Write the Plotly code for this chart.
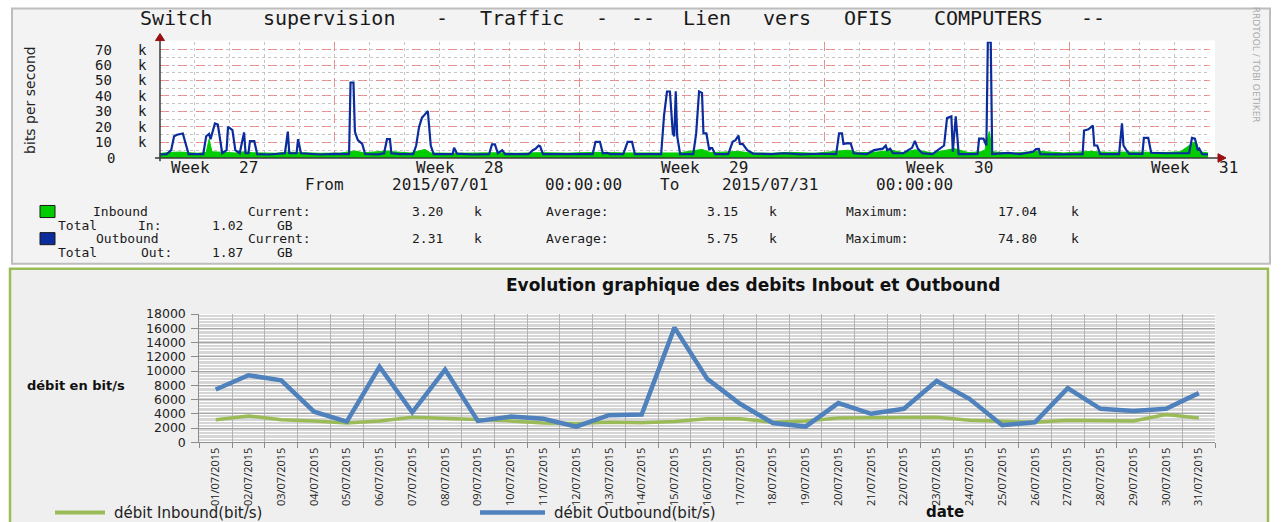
import re
import pandas as pd
import plotly.graph_objects as go

W, H = 1284, 522

# ---------------- Top chart (RRDtool) data: hours since 2015/07/01 00:00, kbit/s ----------------
out_hours = [0, 5, 8, 10, 12, 16, 18, 20, 30, 32, 34, 35, 38, 40, 43, 46, 47, 50, 52, 55, 58, 59, 61, 62, 65, 67,
             75, 86, 88, 89, 94, 95, 97, 110, 120, 130, 131, 133, 134, 136, 139, 141, 150, 154, 156, 158, 159, 165,
             174, 176, 178, 180, 181, 184, 186, 188, 195, 201, 202, 204, 215, 226, 228, 230, 232, 235, 237, 245,
             253, 256, 258, 260, 261, 263, 280, 297, 299, 302, 304, 307, 309, 318, 321, 324, 326, 335, 344, 346,
             348, 350, 352, 353, 354, 355, 357, 366, 368, 370, 372, 373, 375, 377, 378, 379, 381, 390, 393, 395,
             397, 398, 400, 403, 407, 420, 428, 440, 452, 464, 466, 468, 469, 472, 474, 476, 485, 490, 496, 498,
             499, 501, 503, 510, 516, 518, 520, 523, 530, 538, 540, 543, 544, 546, 548, 555, 561, 562, 565, 567,
             568, 570, 571, 582, 590, 599, 601, 603, 604, 615, 633, 634, 637, 640, 641, 643, 645, 652, 658, 660,
             661, 663, 665, 674, 675, 678, 680, 690, 706, 708, 710, 712, 713, 715, 719]
out_kbps = [2.3, 2.5, 5.0, 14.0, 15.0, 15.8, 9.0, 2.4, 2.4, 14.0, 15.5, 12.0, 22.3, 21.5, 3.0, 5.0, 20.0, 18.0, 5.0,
            3.0, 16.5, 3.0, 3.0, 10.8, 10.8, 2.4,
            2.2, 3.0, 17.0, 3.0, 3.0, 12.1, 3.0, 2.2, 2.6, 2.4, 48.7, 48.7, 16.9, 11.5, 9.0, 2.5, 2.3, 3.0, 12.1,
            12.1, 3.0, 2.4,
            2.5, 8.0, 20.0, 26.0, 27.0, 30.3, 8.0, 2.4, 2.5, 2.5, 6.5, 2.8, 2.2, 2.4, 8.7, 8.7, 3.0, 5.0, 2.4, 2.2,
            2.4, 5.0, 6.0, 8.0, 7.5, 2.4, 2.3, 2.4, 10.4, 10.4, 3.0, 3.3, 2.4, 2.4, 10.4, 10.4, 2.4, 2.3, 2.4, 27.7,
            42.9, 42.9, 15.8, 14.0, 43.0, 14.0, 2.4, 2.4, 15.8, 42.9, 42.0, 15.8, 15.8, 5.0, 6.4, 6.4, 2.4, 2.4,
            10.4, 11.5,
            14.5, 9.0, 8.9, 5.0, 2.8, 2.4, 3.0, 2.3, 2.7, 2.4, 15.8, 15.8, 9.0, 9.5, 9.3, 3.0, 2.4, 5.0, 6.0, 8.0,
            5.0, 6.0, 3.0, 3.0, 6.5, 11.0, 6.0, 3.0, 2.4, 8.0, 25.7, 26.8, 4.0, 26.8, 2.4, 2.4, 2.6, 12.5, 12.5, 8.0,
            74.8, 74.8, 2.5, 3.3, 2.4, 4.0, 5.7, 5.8, 2.4, 2.3, 2.4, 17.7, 18.5, 20.9, 8.0, 8.0, 2.4, 2.4, 2.5, 22.3,
            8.0, 5.0, 2.6, 2.6, 13.0, 13.0, 3.3, 3.0, 3.0, 13.0, 12.5, 5.0, 6.0, 2.4, 2.3]

in_hours = [0, 6, 14, 20, 26, 32, 34, 36, 44, 52, 58, 64, 80, 88, 96, 110, 124, 134, 140, 156, 160, 166, 172, 182,
            186, 200, 212, 230, 245, 260, 280, 300, 320, 340, 356, 372, 378, 397, 405, 420, 432, 450, 466, 472,
            480, 492, 502, 510, 518, 530, 545, 555, 563, 566, 569, 571, 585, 602, 620, 638, 650, 665, 690, 700,
            709, 711, 713, 719]
in_kbps = [2.8, 3.5, 3.8, 3.2, 3.0, 3.5, 12.0, 4.0, 3.5, 3.2, 4.0, 3.3, 3.0, 3.8, 3.4, 3.0, 3.1, 4.5, 3.3, 4.5,
           4.0, 3.8, 3.2, 5.5, 3.2, 3.0, 3.2, 3.3, 3.0, 3.4, 3.1, 3.6, 3.2, 3.3, 3.2, 5.5, 3.4, 4.2, 3.2, 3.0,
           3.6, 3.0, 4.5, 5.0, 3.3, 3.8, 5.0, 3.4, 5.2, 3.2, 6.0, 3.4, 4.0, 5.0, 17.04, 4.0, 3.0, 4.3, 3.2, 4.2,
           3.6, 3.8, 3.5, 4.0, 10.0, 10.0, 4.0, 3.2]

top_ytick_vals = [0, 10, 20, 30, 40, 50, 60, 70]
mondays = ["2015-07-06", "2015-07-13", "2015-07-20", "2015-07-27"]
week_labels = ["Week 27", "Week 28", "Week 29", "Week 30", "Week 31"]
week_centers = ["2015-07-02 12:00", "2015-07-09 12:00", "2015-07-16 12:00", "2015-07-23 12:00", "2015-07-30 12:00"]

# ---------------- Bottom chart (Excel) data ----------------
dates = ["01/07/2015", "02/07/2015", "03/07/2015", "04/07/2015", "05/07/2015", "06/07/2015", "07/07/2015",
         "08/07/2015", "09/07/2015", "10/07/2015", "11/07/2015", "12/07/2015", "13/07/2015", "14/07/2015",
         "15/07/2015", "16/07/2015", "17/07/2015", "18/07/2015", "19/07/2015", "20/07/2015", "21/07/2015",
         "22/07/2015", "23/07/2015", "24/07/2015", "25/07/2015", "26/07/2015", "27/07/2015", "28/07/2015",
         "29/07/2015", "30/07/2015", "31/07/2015"]
outbound_daily = [7400, 9400, 8700, 4300, 2900, 10600, 4200, 10200, 3000, 3600, 3300, 2200, 3800, 3900, 16100,
                  8900, 5400, 2700, 2200, 5500, 4000, 4700, 8600, 6100, 2400, 2800, 7600, 4700, 4400, 4700, 6900]
inbound_daily = [3150, 3700, 3150, 3000, 2700, 3000, 3500, 3400, 3200, 3000, 2700, 2650, 2800, 2750, 2900, 3300,
                 3300, 2800, 3000, 3400, 3400, 3400, 3500, 3100, 2900, 2800, 3100, 3000, 3000, 3900, 3400]

# vertical correction: the photographed page comes out slightly squeezed vertically
V_OFF, V_SCALE = 8.6, 0.966


def px(x):
    return x / W


def py(y):
    return 1 - ((y - V_OFF) / V_SCALE) / H


def py_raw(y):
    return 1 - y / H


def mono(text, x, y, cw, size, xref="paper", yref="paper", align="left", color="#1a1a1a",
         family="DejaVu Sans Mono"):
    """Place each word of a monospaced line at its character column (cw px per column)."""
    n = len(text)
    res = []
    for m in re.finditer(r"\S+", text):
        c = (m.start() + len(m.group()) / 2) * cw
        if align == "center":
            c -= n * cw / 2
        elif align == "right":
            c -= n * cw
        res.append(dict(text=m.group(), x=x, y=y, xref=xref, yref=yref, xshift=c, xanchor="center",
                        yanchor="middle", showarrow=False, borderpad=0,
                        font=dict(family=family, size=size, color=color)))
    return res


def label(text, x, yp, size, family="DejaVu Sans", color="#111", xanchor="center", angle=0):
    return dict(text=text, x=px(x), y=yp, xref="paper", yref="paper", xanchor=xanchor, yanchor="middle",
                textangle=angle, showarrow=False, borderpad=0,
                font=dict(family=family, size=size, color=color))


start = pd.Timestamp("2015-07-01")
t_out = start + pd.to_timedelta(out_hours, unit="h")
t_in = start + pd.to_timedelta(in_hours, unit="h")

fig = go.Figure()
fig.add_trace(go.Scatter(x=t_in, y=in_kbps, mode="lines", fill="tozeroy", fillcolor="#00cc00",
                         line=dict(color="#00cc00", width=1), xaxis="x", yaxis="y",
                         showlegend=False, hoverinfo="skip", name="Inbound"))
fig.add_trace(go.Scatter(x=t_out, y=out_kbps, mode="lines", line=dict(color="#0a2c9c", width=2.2),
                         xaxis="x", yaxis="y", showlegend=False, hoverinfo="skip", name="Outbound"))
fig.add_trace(go.Scatter(x=dates, y=inbound_daily, mode="lines", line=dict(color="#9bbb59", width=3.5),
                         xaxis="x2", yaxis="y2", showlegend=False, name="débit Inbound(bit/s)"))
fig.add_trace(go.Scatter(x=dates, y=outbound_daily, mode="lines", line=dict(color="#4f81bd", width=4.5),
                         xaxis="x2", yaxis="y2", showlegend=False, name="débit Outbound(bit/s)"))

red_grid = "rgba(235,120,120,0.75)"
gray_grid = "#c4c4c4"

layout = dict(
    width=W, height=H, autosize=False,
    margin=dict(l=0, r=0, t=0, b=0),
    paper_bgcolor="white", plot_bgcolor="rgba(0,0,0,0)",
    showlegend=False,
    xaxis=dict(domain=[px(159.5), px(1209.5)], type="date", range=["2015-07-01", "2015-07-31"], anchor="y",
               tickmode="array", tickvals=mondays, showticklabels=False, ticks="",
               showgrid=True, gridcolor=red_grid, griddash="dash", gridwidth=1, zeroline=False, showline=False,
               minor=dict(tick0="2015-07-01", dtick=86400000, showgrid=True, gridcolor=gray_grid,
                          griddash="dot", ticks="")),
    yaxis=dict(domain=[py(157.7), py(42.2)], range=[0, 75], anchor="x",
               tickmode="array", tickvals=top_ytick_vals[1:], showticklabels=False, ticks="",
               showgrid=True, gridcolor=red_grid, griddash="dash", zeroline=False, showline=False,
               minor=dict(tick0=0, dtick=5, showgrid=True, gridcolor=gray_grid, griddash="dot", ticks="")),
    xaxis2=dict(domain=[px(199.3), px(1215.2)], type="category", anchor="y2", range=[-0.5, 30.5],
                categoryorder="array", categoryarray=dates,
                tickangle=-90, tickson="boundaries", ticks="outside", ticklen=5, tickcolor="#8c8c8c",
                showgrid=True, gridcolor="#b3b3b3", showline=True, linecolor="#8c8c8c", zeroline=False,
                tickfont=dict(family="Open Sans", size=11, color="#222")),
    yaxis2=dict(domain=[py(440.5), py(313)], range=[0, 18000], anchor="x2", tick0=0, dtick=2000,
                tickformat="d", ticks="outside", ticklen=7, tickcolor="#8c8c8c", ticklabelstandoff=3,
                showgrid=True, gridcolor="#a6a6a6", showline=True, linecolor="#8c8c8c", zeroline=False,
                minor=dict(dtick=200, showgrid=True, gridcolor="#d6d6d6", ticks=""),
                tickfont=dict(family="DejaVu Sans", size=12.5, color="#222")),
)

shapes = [
    # top panel
    dict(type="rect", xref="paper", yref="paper", x0=px(12), x1=px(1270), y0=py(263), y1=py(9),
         fillcolor="#f3f3f3", line=dict(color="#bdbdbd", width=2), layer="below"),
    dict(type="rect", xref="paper", yref="paper", x0=px(160), x1=px(1215), y0=py(158), y1=py(41),
         fillcolor="white", line=dict(width=0), layer="below"),
    # bottom panel
    dict(type="rect", xref="paper", yref="paper", x0=px(10), x1=px(1268), y0=-0.05, y1=py(268),
         fillcolor="#efefef", line=dict(color="#9bbb59", width=2.5), layer="below"),
    dict(type="rect", xref="paper", yref="paper", x0=px(199.3), x1=px(1215.2), y0=py(440.5), y1=py(313),
         fillcolor="white", line=dict(width=0), layer="below"),
    # top axes lines and arrows
    dict(type="line", xref="paper", yref="paper", x0=px(160), x1=px(160), y0=py(161), y1=py(40),
         line=dict(color="#3a3a3a", width=1.5)),
    dict(type="line", xref="paper", yref="paper", x0=px(155), x1=px(1219), y0=py(157.7), y1=py(157.7),
         line=dict(color="#3a3a3a", width=1.5)),
    dict(type="path", xref="paper", yref="paper",
         path=f"M {px(155.5)},{py(41)} L {px(164.5)},{py(41)} L {px(160)},{py(34)} Z",
         fillcolor="#9a1010", line=dict(color="#9a1010", width=1)),
    dict(type="path", xref="paper", yref="paper",
         path=f"M {px(1218)},{py(153.5)} L {px(1218)},{py(162)} L {px(1226)},{py(157.7)} Z",
         fillcolor="#9a1010", line=dict(color="#9a1010", width=1)),
    # RRD legend boxes
    dict(type="rect", xref="paper", yref="paper", x0=px(40), x1=px(55), y0=py(217), y1=py(205),
         fillcolor="#00cc00", line=dict(color="#1a1a1a", width=1)),
    dict(type="rect", xref="paper", yref="paper", x0=px(40), x1=px(55), y0=py(244), y1=py(232),
         fillcolor="#0a2c9c", line=dict(color="#1a1a1a", width=1)),
    # Excel legend swatches (kept inside the page)
    dict(type="line", xref="paper", yref="paper", x0=px(55), x1=px(105), y0=py_raw(519.5), y1=py_raw(519.5),
         line=dict(color="#9bbb59", width=4)),
    dict(type="line", xref="paper", yref="paper", x0=px(480), x1=px(545), y0=py_raw(519.5), y1=py_raw(519.5),
         line=dict(color="#4f81bd", width=4.5)),
]

ann = []
ann += mono("Switch supervision - Traffic - -- Lien vers OFIS COMPUTERS --", px(128), py(19), 16.08, 20)
for v in top_ytick_vals:
    ann += mono(f"{v} k" if v else "0  ", px(150), v, 15.5, 14, yref="y", align="right")
for lab, c in zip(week_labels, week_centers):
    ann += mono(lab, c, py(167), 14.6, 16, xref="x", align="center")
ann += mono("From 2015/07/01 00:00:00 To 2015/07/31 00:00:00", px(296), py(184), 14.375, 16)

cw = 14.3
rows = [
    (211, [("Inbound", 70), ("Current:", 222), ("3.20 k", 399), ("Average:", 520), ("3.15 k", 694),
           ("Maximum:", 820), ("17.04 k", 982)]),
    (224.5, [("Total In:  1.02 GB", 42)]),
    (238, [("Outbound", 70), ("Current:", 222), ("2.31 k", 399), ("Average:", 520), ("5.75 k", 694),
           ("Maximum:", 820), ("74.80 k", 982)]),
    (251.5, [("Total Out: 1.87 GB", 42)]),
]
for yy, segs in rows:
    for txt, left in segs:
        ann += mono(txt, px(left), py(yy), cw, 13)

ann.append(label("bits per second", 30, py(100), 14, color="#222", angle=-90))
ann.append(label("RRDTOOL / TOBI OETIKER", 1256, py(65), 9, color="#ababab", angle=90))

# Excel texts
ann.append(label("<b>Evolution graphique des debits Inbout et Outbound</b>", 753, py(284), 17))
ann.append(label("<b>débit en bit/s</b>", 76, py(384), 13))
ann.append(label("<b>date</b>", 945, py_raw(518.5), 15))
ann.append(label("débit Inbound(bit/s)", 113, py_raw(519.5), 15, color="#222", xanchor="left"))
ann.append(label("débit Outbound(bit/s)", 553, py_raw(519.5), 15, color="#222", xanchor="left"))

layout["shapes"] = shapes
layout["annotations"] = ann
fig.update_layout(**layout)

reset_css = (
    "var s=document.createElement('style');"
    "s.innerHTML='html{background:linear-gradient(to bottom,#ffffff 50%,#efefef 50%);}"
    "html,body{margin:0 !important;padding:0 !important;overflow:hidden !important;}"
    " body>div{margin:0;padding:0;line-height:0;}';"
    "document.head.appendChild(s);"
)
fig.write_html("out.html", config={"displayModeBar": False}, post_script=reset_css)
